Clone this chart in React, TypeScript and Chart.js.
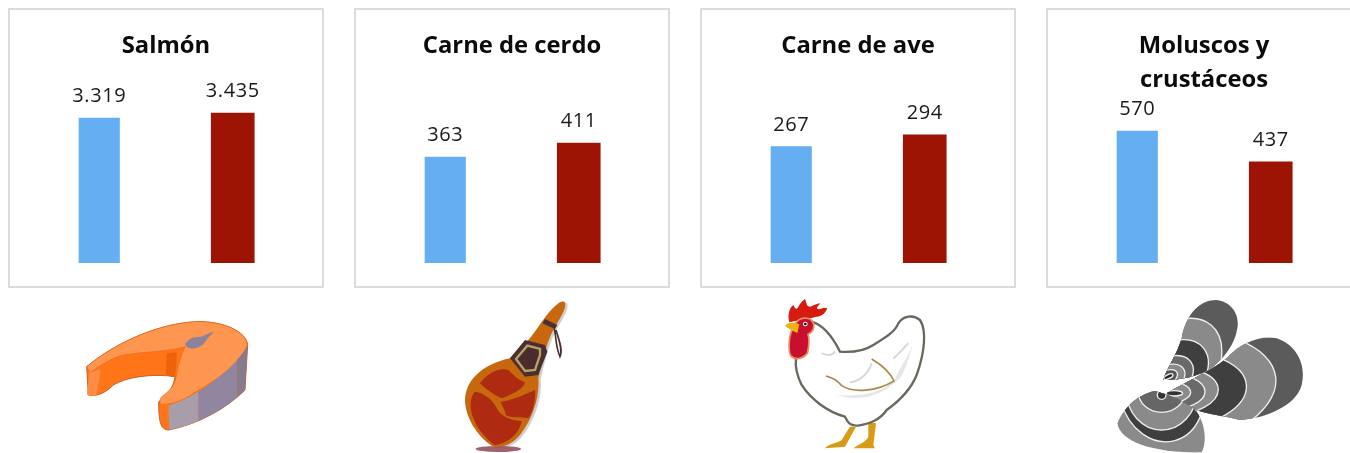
import React, { useEffect, useRef } from "react";
import { Chart, registerables } from "chart.js";

Chart.register(...registerables);

const titles: (string | string[])[] = ["Salmón", "Carne de cerdo", "Carne de ave", ["Moluscos y", "crustáceos"]];
const firstValues = [3319, 363, 267, 570];
const secondValues = [3435, 411, 294, 437];
const axisMax = [3801, 569, 381, 717];
const panelLeft = [8, 354, 700, 1046];
const categories = ["A", "B"];

const FONT = "'Open Sans', 'Noto Sans', sans-serif";
const fmt = (v: number) => String(v).replace(/\B(?=(\d{3})+$)/g, ".");

const valueLabels = {
  id: "valueLabels",
  afterDatasetsDraw(chart: any) {
    const { ctx } = chart;
    ctx.save();
    ctx.font = `20px ${FONT}`;
    ctx.letterSpacing = "0.6px";
    ctx.fillStyle = "#1a1a1a";
    ctx.textAlign = "center";
    ctx.textBaseline = "middle";
    chart.data.datasets.forEach((ds: any, i: number) => {
      chart.getDatasetMeta(i).data.forEach((el: any, j: number) => {
        if (ds.data[j] == null) return;
        ctx.fillText(fmt(ds.data[j]), el.x, el.y - 21.5);
      });
    });
    ctx.restore();
  },
};

function Panel({ index }: { index: number }) {
  const ref = useRef<HTMLCanvasElement>(null);
  useEffect(() => {
    const two = Array.isArray(titles[index]);
    const chart = new Chart(ref.current!, {
      type: "bar",
      data: {
        labels: categories,
        datasets: [
          { data: [firstValues[index], null], backgroundColor: "#64AEF1", barThickness: 40.5 },
          { data: [null, secondValues[index]], backgroundColor: "#9E1404", barThickness: 43 },
        ],
      },
      options: {
        responsive: false,
        animation: false,
        layout: { padding: { left: 24.5, right: 24.5, top: 0, bottom: 25 } },
        plugins: {
          legend: { display: false },
          tooltip: { enabled: false },
          title: {
            display: true,
            text: titles[index] as any,
            color: "#0b0b0b",
            font: { family: FONT, size: 23.8, weight: "bold", lineHeight: "34px" as any },
            padding: { top: 21, bottom: two ? 0 : 34 },
          },
        },
        scales: {
          x: { display: false, stacked: true },
          y: { display: false, stacked: true, min: 0, max: axisMax[index] },
        },
      },
      plugins: [valueLabels],
    } as any);
    return () => chart.destroy();
  }, [index]);
  return (
    <div
      style={{
        position: "absolute",
        left: panelLeft[index],
        top: 8,
        width: 316,
        height: 280,
        boxShadow: "inset 0 0 0 2px #dcdcdc",
      }}
    >
      <canvas ref={ref} width={316} height={280} style={{ display: "block" }} />
    </div>
  );
}

function Icons() {
  return (
    <svg width={1350} height={453} style={{ position: "absolute", left: 0, top: 0, filter: "blur(0.4px)" }}>
      <defs>
        <clipPath id="shellA">
          <path d="M190,255 C200,220 230,180 245,130 C255,70 290,15 350,15 C395,20 420,60 412,100 C405,150 370,190 340,215 C300,245 240,255 190,255Z" />
        </clipPath>
        <clipPath id="shellB">
          <path d="M200,295 C250,265 330,230 380,190 C420,145 480,120 530,130 C590,150 620,210 605,270 C590,330 500,370 420,375 C380,365 330,360 270,340 C240,325 220,310 200,295Z" />
        </clipPath>
        <clipPath id="shellC">
          <path d="M165,288 C110,300 70,340 52,385 C60,440 160,475 305,472 C322,440 315,385 290,350 C260,320 210,300 165,288Z" />
        </clipPath>
        <clipPath id="skin">
          <path d="M325,332 C400,310 520,230 563,150 L555,285 C500,340 420,385 328,405Z" />
        </clipPath>
      </defs>

      {/* salmon */}
      <g transform="translate(60,295) scale(0.3333)">
        <path d="M80,215 C170,140 300,85 410,80 C490,78 560,110 563,150 L555,285 C500,340 420,385 328,405 C305,405 297,390 296,330 L296,320 C320,305 340,280 345,245 C280,235 200,245 160,270 C135,295 110,305 85,300 Z" fill="#ff7518" stroke="#c9602a" strokeWidth="3" />
        <path d="M80,215 C170,140 300,85 410,80 C490,78 560,110 562,150 C555,190 480,250 400,295 C370,315 340,328 305,328 C298,325 298,315 305,305 C335,285 345,265 350,240 C355,210 360,190 375,155 C330,170 250,170 190,180 C150,190 110,220 90,232 Z" fill="#ff9650" stroke="#e8691c" strokeWidth="2" />
        <path d="M88,232 C100,230 115,225 122,222 C120,250 112,280 108,302 C95,303 85,302 81,298Z" fill="#ff8c45" />
        <path d="M320,175 L350,172 C352,195 348,220 345,245 L318,240Z" fill="#f0620a" />
        <g clipPath="url(#skin)">
          <rect x="320" y="140" width="95" height="280" fill="#a79ea9" />
          <rect x="415" y="140" width="115" height="280" fill="#9186a0" />
          <rect x="530" y="140" width="40" height="280" fill="#877b8e" />
        </g>
        <path d="M375,148 C385,128 405,125 425,125 C435,120 450,112 462,110 C450,122 440,132 430,148 C410,165 380,165 375,148Z" fill="#8a8399" />
      </g>

      {/* ham */}
      <g transform="translate(430,295) scale(0.3333)">
        <path d="M412,26 C417,44 397,74 382,99 C362,134 347,184 332,254 C337,304 317,374 277,424 C257,449 227,464 197,459 C157,434 117,384 112,324 C112,264 157,214 247,194 L302,139 C327,114 357,54 392,29 C399,24 410,22 412,26 Z" fill="#cfcfcf" />
        <ellipse cx="205" cy="462" rx="68" ry="9" fill="#8a3a4a" opacity="0.8" />
        <path d="M405,22 C410,40 390,70 375,95 C355,130 340,180 325,250 C330,300 310,370 270,420 C250,445 220,460 190,455 C150,430 110,380 105,320 C105,260 150,210 240,190 L295,135 C320,110 350,50 385,25 C392,20 403,18 405,22 Z" fill="#c8680e" />
        <path d="M150,265 C170,235 210,215 235,225 C250,240 265,255 285,262 C280,285 240,300 215,310 C190,300 165,280 150,265Z" fill="#ae2a10" />
        <path d="M315,285 C318,310 310,350 295,370 C275,365 240,370 228,360 C225,345 215,330 212,320 C250,315 280,300 315,285 Z" fill="#ae2a10" />
        <path d="M135,290 C165,295 185,315 195,330 C205,350 220,375 275,378 C270,410 240,445 195,450 C160,425 125,380 122,335 C122,315 125,300 135,290Z" fill="#ae2a10" />
        <path d="M240,190 L285,135 L345,150 L352,170 L325,240 L285,245Z" fill="#4a2f2f" />
        <path d="M258,192 L292,152 L330,162 L330,180 L315,225 L285,228Z" fill="#4a2c2c" stroke="#b5a16a" strokeWidth="7" />
        <path d="M337,85 L345,72 L382,90 L375,102Z" fill="#4a2f2f" />
        <path d="M372,100 C380,125 375,150 390,185 C400,165 385,130 378,105" fill="none" stroke="#4a2f2f" strokeWidth="5" />
      </g>

      {/* chicken */}
      <g transform="translate(770,295) scale(0.3333)">
        <path d="M240,395 L258,395 L225,455 L165,460 C175,445 205,445 215,435Z" fill="#d99a16" />
        <path d="M295,382 L318,385 L310,450 L315,460 L250,460 C265,448 290,440 295,425Z" fill="#d99a16" />
        <path d="M125,80 C160,90 190,130 210,170 C240,172 280,170 310,150 C350,125 375,110 385,85 C400,62 430,58 450,75 C470,105 465,170 440,240 C420,290 385,320 350,345 C330,375 300,385 265,392 C240,392 235,385 225,365 C170,350 120,310 95,270 C80,240 75,215 78,190 L120,100 Z" fill="#ffffff" stroke="#6b675f" strokeWidth="7" />
        <path d="M200,300 C260,320 330,310 390,250 C410,220 415,190 435,130 C420,180 385,225 370,262 C320,300 260,305 200,300Z" fill="#e6e6e6" />
        <path d="M240,262 C270,260 295,235 305,205 M155,175 C170,180 185,185 195,170 M370,190 C385,180 400,160 415,145" fill="none" stroke="#d8d8d8" strokeWidth="6" />
        <path d="M168,243 C190,250 200,255 215,272 C250,295 320,290 372,258 C360,230 335,210 305,192" fill="none" stroke="#a88a4a" strokeWidth="5" />
        <path d="M58,82 C52,60 58,38 70,30 C75,42 80,45 85,35 C90,25 100,15 105,12 C110,25 110,35 120,35 C130,33 140,25 150,25 C145,35 135,40 145,43 C155,40 165,37 172,40 C165,58 150,66 135,66 C120,72 85,75 58,82 Z" fill="#d81a10" />
        <path d="M70,100 C56,115 54,165 62,182 C75,197 97,192 112,175 C118,150 118,130 114,118 C134,108 138,85 120,72 C100,65 80,70 70,100Z" fill="#c8102e" stroke="#e89060" strokeWidth="5" />
        <path d="M45,92 C58,80 75,83 88,88 L82,114 C70,107 55,102 45,92Z" fill="#eeb215" />
        <circle cx="106" cy="87" r="7" fill="#ffffff" />
        <circle cx="106" cy="87" r="4" fill="#111111" />
      </g>

      {/* mussels */}
      <g transform="translate(1100,295) scale(0.3333)" stroke="#eeeeee" strokeWidth="4">
        <g clipPath="url(#shellA)">
          <rect x="150" y="0" width="300" height="300" fill="#5b5b5b" stroke="none" />
          <ellipse cx="195" cy="255" rx="215" ry="130" transform="rotate(-50 195 255)" fill="#8a8a8a" />
          <ellipse cx="195" cy="255" rx="150" ry="95" transform="rotate(-40 195 255)" fill="#3f3f3f" />
          <ellipse cx="195" cy="255" rx="95" ry="60" transform="rotate(-35 195 255)" fill="#6a6a6a" />
          <ellipse cx="195" cy="255" rx="65" ry="40" transform="rotate(-30 195 255)" fill="#8a8a8a" />
          <ellipse cx="195" cy="250" rx="40" ry="22" transform="rotate(-25 195 250)" fill="#555555" />
          <ellipse cx="205" cy="245" rx="15" ry="6" transform="rotate(-25 205 245)" fill="#222222" />
        </g>
        <g clipPath="url(#shellB)">
          <rect x="190" y="110" width="430" height="280" fill="#5b5b5b" stroke="none" />
          <ellipse cx="200" cy="290" rx="330" ry="175" transform="rotate(-8 200 290)" fill="#8a8a8a" />
          <ellipse cx="200" cy="290" rx="240" ry="120" transform="rotate(-5 200 290)" fill="#3f3f3f" />
          <ellipse cx="200" cy="290" rx="155" ry="75" transform="rotate(-3 200 290)" fill="#8a8a8a" />
          <ellipse cx="200" cy="290" rx="115" ry="55" fill="#6a6a6a" />
          <ellipse cx="200" cy="292" rx="72" ry="33" fill="#8a8a8a" />
          <ellipse cx="222" cy="295" rx="26" ry="8" fill="#333333" />
        </g>
        <g clipPath="url(#shellC)">
          <rect x="40" y="280" width="290" height="200" fill="#8a8a8a" stroke="none" />
          <ellipse cx="185" cy="290" rx="125" ry="152" transform="rotate(-15 185 290)" fill="#3f3f3f" />
          <ellipse cx="185" cy="290" rx="105" ry="115" fill="#8a8a8a" />
          <ellipse cx="185" cy="290" rx="70" ry="62" fill="#666666" />
          <ellipse cx="185" cy="300" rx="13" ry="13" fill="#333333" />
        </g>
      </g>
    </svg>
  );
}

export default function App() {
  return (
    <div style={{ position: "fixed", left: 0, top: 0, width: 1350, height: 453, overflow: "hidden", background: "#ffffff" }}>
      {titles.map((_, i) => (
        <Panel key={i} index={i} />
      ))}
      <Icons />
    </div>
  );
}
